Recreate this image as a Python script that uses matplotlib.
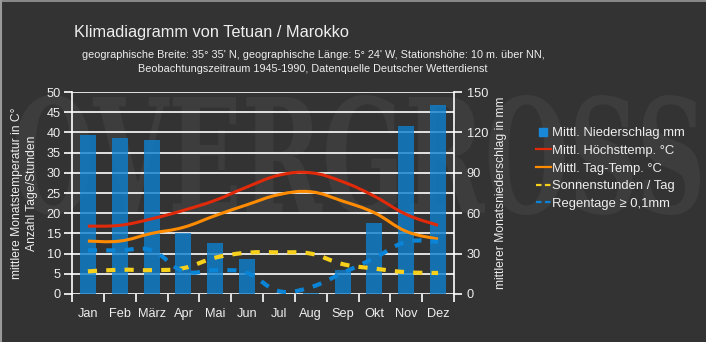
import numpy as np
import matplotlib
matplotlib.use('Agg')
import matplotlib.pyplot as plt
from matplotlib.path import Path
from matplotlib.patches import PathPatch
from matplotlib.lines import Line2D
from matplotlib.textpath import TextPath
from matplotlib.font_manager import FontProperties
from matplotlib.transforms import Affine2D

# monthly climate values for Tetuan
months = ['Jan', 'Feb', 'März', 'Apr', 'Mai', 'Jun', 'Jul', 'Aug', 'Sep', 'Okt', 'Nov', 'Dez']
precip = [118, 116, 114, 45, 38, 26, 0, 1, 18, 53, 125, 140]
tmax = [16.8, 17.0, 18.6, 20.7, 23.2, 26.5, 29.4, 30.0, 27.8, 24.2, 19.7, 17.0]
tday = [13.1, 13.1, 15.0, 16.5, 19.4, 22.1, 24.6, 25.3, 23.0, 20.1, 15.5, 13.6]
sun = [5.6, 6.0, 5.9, 6.4, 9.0, 10.2, 10.3, 10.0, 7.4, 6.3, 5.4, 5.2]
raindays = [10.8, 10.8, 10.8, 5.6, 5.9, 5.2, 0.7, 1.7, 5.2, 8.9, 12.9, 12.9]

bg = '#333333'
fg = '#eeeeee'
W, H = 706, 342
plt.rcParams['font.family'] = ['Liberation Sans', 'DejaVu Sans']

def smooth_path(xs, ys, tension=0.4):
    # cubic bezier through the points, Chart.js style
    xs = np.asarray(xs, float)
    ys = np.asarray(ys, float)
    n = len(xs)
    verts = [(xs[0], ys[0])]
    codes = [Path.MOVETO]
    for i in range(n - 1):
        x0, y0 = (xs[i - 1], ys[i - 1]) if i > 0 else (xs[i], ys[i])
        x3, y3 = (xs[i + 2], ys[i + 2]) if i + 2 < n else (xs[i + 1], ys[i + 1])
        c1 = (xs[i] + (xs[i + 1] - x0) * tension / 2, ys[i] + (ys[i + 1] - y0) * tension / 2)
        c2 = (xs[i + 1] - (x3 - xs[i]) * tension / 2, ys[i + 1] - (y3 - ys[i]) * tension / 2)
        verts += [c1, c2, (xs[i + 1], ys[i + 1])]
        codes += [Path.CURVE4] * 3
    return Path(verts, codes)

fig = plt.figure(figsize=(W / 100, H / 100), dpi=100, facecolor=bg)

# faint logo behind the plot, stretched to a box in pixels
tp = TextPath((0, 0), 'OVERGROSS', size=100,
              prop=FontProperties(family='DejaVu Serif', weight='bold'))
bb = tp.get_extents()
box = (15, 95, 700, 215)  # left, top, right, bottom in pixels
sx = (box[2] - box[0]) / bb.width / W
sy = (box[3] - box[1]) / bb.height / H
logo_tf = Affine2D().translate(-bb.x0, -bb.y0).scale(sx, sy).translate(box[0] / W, 1 - box[3] / H)
fig.add_artist(PathPatch(tp, facecolor='#3d3d3d', edgecolor='none',
                         transform=logo_tf + fig.transFigure, zorder=-5))

# frame lines on top and left
fig.add_artist(Line2D([0, 1], [0.998, 0.998], color='#9a9a9a', lw=1.2, transform=fig.transFigure))
fig.add_artist(Line2D([0.0015, 0.0015], [0, 1], color='#9a9a9a', lw=1.5, transform=fig.transFigure))

ax = fig.add_axes([72 / W, 1 - 294 / H, (454 - 72) / W, (294 - 92) / H])
ax2 = ax.twinx()
x = np.arange(len(months))

# precipitation bars
ax.set_facecolor('none')
ax.bar(x, precip, width=0.5, color='#0e80d0', alpha=0.8, zorder=2)
ax.set_ylim(0, 150)
ax.set_xlim(-0.5, 11.5)
ax.set_yticks([])
ax.grid(False)
ax.set_xticks(np.arange(-0.5, 12, 1))
ax.set_xticklabels([])
ax.set_xticks(x, minor=True)
ax.set_xticklabels(months, minor=True)
ax.tick_params(axis='x', which='major', direction='out', length=6, color='white', width=1.2)
ax.tick_params(axis='x', which='minor', length=0, colors=fg, labelsize=9.2, pad=10)
for s in ['top', 'left', 'bottom', 'right']:
    ax.spines[s].set_visible(False)
# white guide lines every 15 mm (= every 5 on the left scale)
for v in range(0, 151, 15):
    ax.axhline(v, color='white', lw=1.2, zorder=0)

# temperature / days axis (left)
ax2.set_facecolor('none')
ax2.set_ylim(0, 50)
ax2.set_yticks(np.arange(0, 51, 5))
ax2.yaxis.tick_left()
ax2.yaxis.set_label_position('left')
ax2.tick_params(axis='y', direction='out', length=6, color='white', width=1.2, colors=fg,
                labelsize=9.2, pad=2)
for s in ['top', 'right', 'bottom']:
    ax2.spines[s].set_visible(False)
ax2.spines['left'].set_color('white')
ax2.spines['left'].set_linewidth(1.2)
ax2.set_ylabel('mittlere Monatstemperatur in C°\nAnzahl Tage/Stunden', color=fg,
               fontsize=8.7, labelpad=6, linespacing=1.35)

# precipitation ticks (right)
ax3 = ax.twinx()
ax3.set_facecolor('none')
ax3.set_ylim(0, 150)
ax3.set_yticks(np.arange(0, 151, 30))
ax3.tick_params(axis='y', direction='out', length=6, color='white', width=1.2, colors=fg,
                labelsize=9.2, pad=3)
for s in ['top', 'left', 'bottom']:
    ax3.spines[s].set_visible(False)
ax3.spines['right'].set_color('white')
ax3.spines['right'].set_linewidth(1.2)
ax3.set_ylabel('mittlerer Monatsniederschlag in mm', color=fg, fontsize=8.7, labelpad=5)

series = [
    (tmax, '#e02a0a', '-', 2.2, 'Mittl. Höchsttemp. °C'),
    (tday, '#ff8c00', '-', 2.2, 'Mittl. Tag-Temp. °C'),
    (sun, '#f7d01c', (0, (2.2, 2.2)), 3.0, 'Sonnenstunden / Tag'),
    (raindays, '#0a84d6', (0, (2.2, 2.2)), 3.0, 'Regentage ≥ 0,1mm'),
]
handles = [Line2D([], [], marker='s', ls='', color='#1a88d8', markersize=5.5,
                  label='Mittl. Niederschlag mm')]
for vals, col, ls, lw, lab in series:
    ax2.add_patch(PathPatch(smooth_path(x, vals), facecolor='none', edgecolor=col, lw=lw,
                            linestyle=ls, zorder=3, capstyle='butt'))
    handles.append(Line2D([], [], color=col, lw=1.6,
                          ls=(0, (2.5, 1.5)) if ls != '-' else '-', label=lab))

fig.legend(handles=handles, loc='upper left', bbox_to_anchor=(531 / W, 1 - 122 / H),
           frameon=False, fontsize=9.4, labelcolor=fg, handlelength=1.1, handletextpad=0.1,
           labelspacing=0.42, borderaxespad=0)

fig.text(74 / W, 1 - 33 / H, 'Klimadiagramm von Tetuan / Marokko', color=fg,
         fontsize=11.8, va='center', ha='left')
fig.text(313 / W, 1 - 62 / H,
         'geographische Breite: 35° 35\' N, geographische Länge: 5° 24\' W, Stationshöhe: 10 m. über NN,\n'
         'Beobachtungszeitraum 1945-1990, Datenquelle Deutscher Wetterdienst',
         color=fg, fontsize=7.8, va='center', ha='center', linespacing=1.45)

fig.savefig('out.png', dpi=100, facecolor=bg)
